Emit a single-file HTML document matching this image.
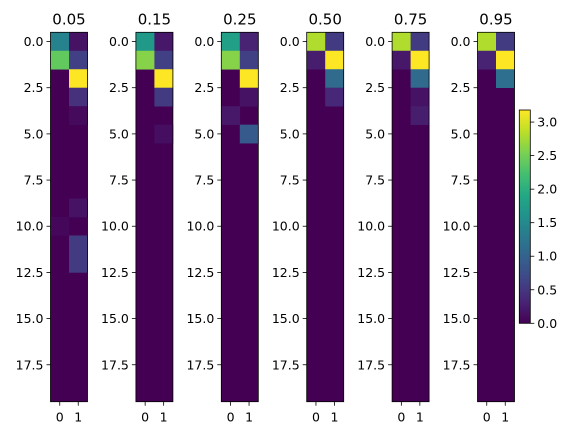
<!DOCTYPE html>
<html><head><meta charset="utf-8"><style>
html,body{margin:0;padding:0;background:#fff;}
svg{display:block;font-family:"DejaVu Sans","Liberation Sans",sans-serif;}
</style></head><body>
<svg id="chart" width="571" height="435" viewBox="0 0 571 435"></svg>
<script>
const titles = ["0.05","0.15","0.25","0.50","0.75","0.95"];
const rowCount = 20;
const yTicks = [0,2.5,5,7.5,10,12.5,15,17.5];
const yTickLabels = ["0.0","2.5","5.0","7.5","10.0","12.5","15.0","17.5"];
const xTicks = [0,1];
const vmax = 3.18;
const cbTicks = [0,0.5,1,1.5,2,2.5,3];
const cbTickLabels = ["0.0","0.5","1.0","1.5","2.0","2.5","3.0"];
// Non-zero cells per panel: [row, col, value]
const panel005 = [[0,0,1.4],[0,1,0.15],[1,0,2.4],[1,1,0.6],[2,1,3.18],[3,1,0.45],[4,1,0.08],[9,1,0.15],[10,0,0.05],[11,1,0.55],[12,1,0.55]];
const panel015 = [[0,0,1.7],[0,1,0.2],[1,0,2.6],[1,1,0.6],[2,1,3.18],[3,1,0.55],[5,1,0.12]];
const panel025 = [[0,0,1.8],[0,1,0.3],[1,0,2.6],[1,1,0.6],[2,1,3.18],[3,1,0.15],[4,0,0.2],[5,1,0.9]];
const panel050 = [[0,0,2.8],[0,1,0.55],[1,0,0.25],[1,1,3.18],[2,1,1.1],[3,1,0.35]];
const panel075 = [[0,0,2.8],[0,1,0.55],[1,0,0.2],[1,1,3.18],[2,1,1.1],[3,1,0.15],[4,1,0.25]];
const panel095 = [[0,0,2.8],[0,1,0.55],[1,0,0.3],[1,1,3.18],[2,1,1.15]];
const panels = [panel005,panel015,panel025,panel050,panel075,panel095];

const VIR=[[68,1,84],[72,36,117],[65,68,135],[53,95,141],[42,120,142],[33,145,140],[34,168,132],[68,191,112],[122,209,81],[189,223,38],[253,231,37]];
function viridis(t){t=Math.max(0,Math.min(1,t));const s=t*10,i=Math.min(9,Math.floor(s)),f=s-i;
 const a=VIR[i],b=VIR[i+1];return `rgb(${a.map((v,k)=>Math.round(v+(b[k]-v)*f)).join(',')})`;}
const NS="http://www.w3.org/2000/svg";
const svg=document.getElementById('chart');
function el(tag,attrs,parent){const e=document.createElementNS(NS,tag);for(const k in attrs)e.setAttribute(k,attrs[k]);(parent||svg).appendChild(e);return e;}
const top0=32.3, H=369.4, W=37, rowH=H/rowCount, colW=W/2;
const yScale=v=>top0+(v+0.5)*rowH;
panels.forEach((cells,p)=>{
 const x0=50.5+p*85.4;
 const g=el('g',{});
 
 
 const bg=el('rect',{x:x0,y:top0,width:W,height:H,fill:viridis(0)},g);
 
 
 cells.forEach(c=>{
  const r=el('rect',{x:x0+c[1]*colW,y:top0+c[0]*rowH,width:colW+0.3,height:rowH+0.3,fill:viridis(c[2]/vmax)},g);
  
  
 });
 el('rect',{x:x0,y:top0,width:W,height:H,fill:'none',stroke:'#000','stroke-width':0.8},g);
 const t=el('text',{x:x0+W/2,y:top0-8,'text-anchor':'middle','font-size':15,fill:'#000'},g);
 t.textContent=titles[p];
 
 
 yTicks.forEach((v,i)=>{const y=yScale(v);
  el('line',{x1:x0-4,x2:x0,y1:y,y2:y,stroke:'#000','stroke-width':0.8},g);
  const l=el('text',{x:x0-7,y:y+4.5,'text-anchor':'end','font-size':12.5,fill:'#000'},g);
  l.textContent=yTickLabels[i];
  
  
 });
 xTicks.forEach(v=>{const x=x0+(v+0.5)*colW;
  el('line',{x1:x,x2:x,y1:top0+H,y2:top0+H+4,stroke:'#000','stroke-width':0.8},g);
  const l=el('text',{x:x,y:top0+H+20,'text-anchor':'middle','font-size':12.5,fill:'#000'},g);
  l.textContent=String(v);
  
  
 });
});
// colorbar
const cbX=519.3,cbW=11,cbTop=110,cbBot=323.3;
const cbScale=v=>cbBot-(v/vmax)*(cbBot-cbTop);
const defs=el('defs',{});
const grad=el('linearGradient',{id:'vg',x1:0,y1:1,x2:0,y2:0},defs);
for(let i=0;i<=10;i++)el('stop',{offset:i/10,'stop-color':viridis(i/10)},grad);
const cb=el('rect',{x:cbX,y:cbTop,width:cbW,height:cbBot-cbTop,fill:'url(#vg)',stroke:'#000','stroke-width':0.8});


cbTicks.forEach((v,i)=>{const y=cbScale(v);
 el('line',{x1:cbX+cbW,x2:cbX+cbW+4,y1:y,y2:y,stroke:'#000','stroke-width':0.8});
 const l=el('text',{x:cbX+cbW+7,y:y+4.5,'font-size':12.5,fill:'#000'});
 l.textContent=cbTickLabels[i];
 
 
});
</script>
</body></html>
